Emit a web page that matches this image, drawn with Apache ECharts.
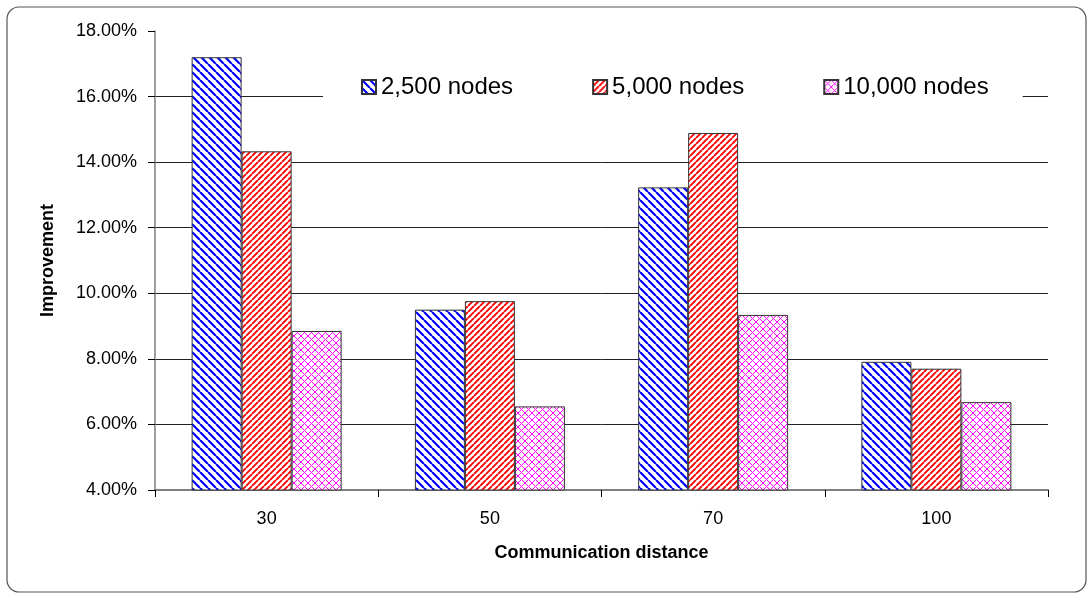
<!DOCTYPE html>
<html>
<head>
<meta charset="utf-8">
<script src="https://cdn.jsdelivr.net/npm/echarts@6/dist/echarts.min.js"></script>
<style>
html,body{margin:0;padding:0;background:#fff;}
#chart{width:1089px;height:594px;}
</style>
</head>
<body>
<div id="chart"></div>
<script>
const categories = ['30', '50', '70', '100'];
const seriesNames = ['2,500 nodes', '5,000 nodes', '10,000 nodes'];
const nodes2500 = [17.2, 9.5, 13.23, 7.91];
const nodes5000 = [14.33, 9.76, 14.89, 7.70];
const nodes10000 = [8.85, 6.55, 9.34, 6.68];
const yMin = 4, yMax = 18, yStep = 2;

function stripes(color, p, w, dir) {
  const c = document.createElement('canvas');
  c.width = p; c.height = p;
  const ctx = c.getContext('2d');
  ctx.fillStyle = '#fff'; ctx.fillRect(0, 0, p, p);
  ctx.strokeStyle = color; ctx.lineWidth = w;
  ctx.beginPath();
  for (let k = -1; k <= 1; k++) {
    if (dir === '/') { ctx.moveTo(k * p, p); ctx.lineTo(k * p + p, 0); }
    else { ctx.moveTo(k * p, 0); ctx.lineTo(k * p + p, p); }
  }
  ctx.stroke();
  return c;
}
function cross(color, p, w) {
  const c = document.createElement('canvas');
  c.width = p; c.height = p;
  const ctx = c.getContext('2d');
  ctx.fillStyle = '#fff'; ctx.fillRect(0, 0, p, p);
  ctx.strokeStyle = color; ctx.lineWidth = w;
  ctx.beginPath();
  for (let k = -1; k <= 1; k++) {
    ctx.moveTo(k * p, p); ctx.lineTo(k * p + p, 0);
    ctx.moveTo(k * p, 0); ctx.lineTo(k * p + p, p);
  }
  ctx.stroke();
  return c;
}

const patterns = [
  { image: stripes('#0000ff', 8, 2.2, '\\'), repeat: 'repeat' },
  { image: stripes('#ff0000', 6, 1.9, '/'), repeat: 'repeat' },
  { image: cross('#ff00ff', 7, 1.0), repeat: 'repeat' }
];
const dataSets = [nodes2500, nodes5000, nodes10000];

const FONT = '"Liberation Sans", Arial, sans-serif';
const chart = echarts.init(document.getElementById('chart'), null, { renderer: 'canvas' });

chart.setOption({
  animation: false,
  backgroundColor: '#fff',
  textStyle: { fontFamily: FONT, color: '#000' },
  graphic: [{
    type: 'rect',
    shape: { x: 7, y: 7, width: 1079, height: 585, r: 12 },
    style: { fill: 'none', stroke: '#555', lineWidth: 1.2 },
    z: -1, silent: true
  }],
  grid: { left: 155, right: 41, top: 31, bottom: 104, containLabel: false },
  legend: {
    left: 323, top: 67,
    padding: [8, 34, 12, 38],
    backgroundColor: '#fff',
    itemWidth: 14, itemHeight: 14, itemGap: 79,
    icon: 'rect',
    textStyle: { fontFamily: FONT, fontSize: 24, color: '#000' },
    data: seriesNames
  },
  xAxis: {
    type: 'category',
    data: categories,
    name: 'Communication distance',
    nameLocation: 'middle',
    nameGap: 54,
    nameTextStyle: { fontFamily: FONT, fontSize: 18, fontWeight: 'bold', color: '#000' },
    axisLine: { lineStyle: { color: '#808080', width: 2 } },
    axisTick: { show: true, length: 7, lineStyle: { color: '#000' } },
    axisLabel: { fontFamily: FONT, fontSize: 18, color: '#000', margin: 20 },
    splitLine: { show: false }
  },
  yAxis: {
    type: 'value',
    min: yMin, max: yMax, interval: yStep,
    name: 'Improvement',
    nameLocation: 'middle',
    nameGap: 98,
    nameTextStyle: { fontFamily: FONT, fontSize: 18, fontWeight: 'bold', color: '#000' },
    axisLine: { show: true, lineStyle: { color: '#808080', width: 1.5 } },
    axisTick: { show: true, length: 7, lineStyle: { color: '#000' } },
    axisLabel: { fontFamily: FONT, fontSize: 18, color: '#000', margin: 18,
      formatter: v => v.toFixed(2) + '%' },
    splitLine: { show: true, showMaxLine: false, lineStyle: { color: '#222', width: 1 } }
  },
  series: seriesNames.map((name, i) => ({
    name: name,
    type: 'bar',
    data: dataSets[i],
    barWidth: 50,
    barGap: '0%',
    itemStyle: { color: patterns[i], borderColor: '#333', borderWidth: 1 }
  }))
});
</script>
</body>
</html>
